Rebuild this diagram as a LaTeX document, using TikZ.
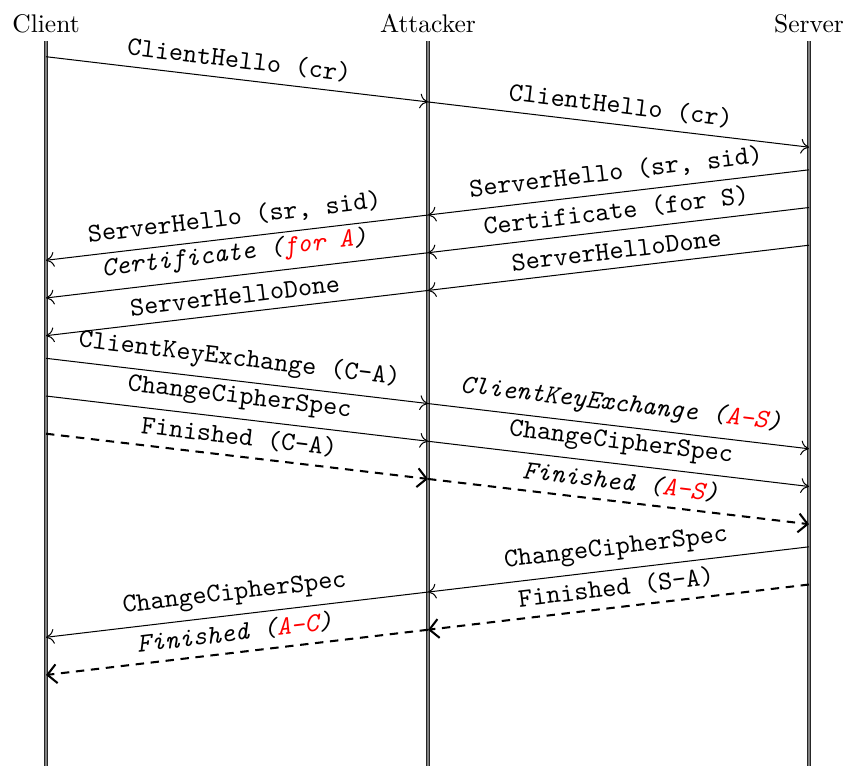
\documentclass[tikz,border=0pt]{standalone}
\usepackage{fontspec}
\usetikzlibrary{calc,arrows.meta}
\begin{document}
\begin{tikzpicture}[x=0.392pt,y=-0.392pt,
  lifeline/.style={draw=black!85,line width=0.55pt,double=black!50,double distance=0.7pt},
  head/.style={anchor=base,inner sep=0pt,font=\normalsize},
  msg/.style={-{To[length=3.2pt,width=5.8pt]},line width=0.4pt},
  fmsg/.style={-{Straight Barb[length=3.6pt,width=7.4pt]},line width=0.8pt,dash pattern=on 3.3pt off 2.6pt},
  lbl/.style={midway,above,sloped,font=\fontsize{10.5}{12}\selectfont\ttfamily},
  ilbl/.style={midway,above,sloped,font=\fontsize{10.5}{12}\selectfont\ttfamily\itshape}]
\useasboundingbox (0,0) rectangle (847,765);
% headers
\node[head] (hc) at (46,32) {Client};
\node[head] (ha) at (428,32) {Attacker};
\node[head] (hs) at (809,32) {Server};
% lifelines
\coordinate (Ct) at (46,41);  \coordinate (Cb) at (46,766);
\coordinate (At) at (428,41); \coordinate (Ab) at (428,766);
\coordinate (St) at (809,41); \coordinate (Sb) at (809,766);
\draw[lifeline] (Ct) -- (Cb);
\draw[lifeline] (At) -- (Ab);
\draw[lifeline] (St) -- (Sb);
% message end points  (y = 56.7 + 37.7 t)
\foreach \n/\t in {0/0, 8/8, 9/9, 10/10, 5x4/5.4, 6x4/6.4, 7x4/7.4, 15x4/15.4, 16x4/16.4}
  \coordinate (C\n) at (46,{56.7+37.7*\t});
\foreach \n/\t in {1x2/1.2, 4x2/4.2, 5x2/5.2, 6x2/6.2, 9x2/9.2, 10x2/10.2, 11x2/11.2, 14x2/14.2, 15x2/15.2}
  \coordinate (A\n) at (428,{56.7+37.7*\t});
\foreach \n/\t in {2x4/2.4, 3/3, 4/4, 5/5, 10x4/10.4, 11x4/11.4, 12x4/12.4, 13/13, 14/14}
  \coordinate (S\n) at (809,{56.7+37.7*\t});
% ClientHello
\draw[msg] (C0) -- (A1x2) node[lbl] {ClientHello (cr)};
\draw[msg] (A1x2) -- (S2x4) node[lbl] {ClientHello (cr)};
% ServerHello
\draw[msg] (S3) -- (A4x2) node[lbl] {ServerHello (sr, sid)};
\draw[msg] (A4x2) -- (C5x4) node[lbl] {ServerHello (sr, sid)};
% Certificate
\draw[msg] (S4) -- (A5x2) node[lbl] {Certificate (for S)};
\draw[msg] (A5x2) -- (C6x4) node[ilbl] {Certificate (\textcolor{red}{for A})};
% ServerHelloDone
\draw[msg] (S5) -- (A6x2) node[lbl] {ServerHelloDone};
\draw[msg] (A6x2) -- (C7x4) node[lbl] {ServerHelloDone};
% ClientKeyExchange
\draw[msg] (C8) -- (A9x2) node[lbl] {ClientKeyExchange (C-A)};
\draw[msg] (A9x2) -- (S10x4) node[ilbl] {ClientKeyExchange (\textcolor{red}{A-S})};
% ChangeCipherSpec (client)
\draw[msg] (C9) -- (A10x2) node[lbl] {ChangeCipherSpec};
\draw[msg] (A10x2) -- (S11x4) node[lbl] {ChangeCipherSpec};
% Finished (client)
\draw[fmsg] (C10) -- (A11x2) node[lbl] {Finished (C-A)};
\draw[fmsg] (A11x2) -- (S12x4) node[ilbl] {Finished (\textcolor{red}{A-S})};
% ChangeCipherSpec (server)
\draw[msg] (S13) -- (A14x2) node[lbl] {ChangeCipherSpec};
\draw[msg] (A14x2) -- (C15x4) node[lbl] {ChangeCipherSpec};
% Finished (server)
\draw[fmsg] (S14) -- (A15x2) node[lbl] {Finished (S-A)};
\draw[fmsg] (A15x2) -- (C16x4) node[ilbl] {Finished (\textcolor{red}{A-C})};
\end{tikzpicture}
\end{document}
